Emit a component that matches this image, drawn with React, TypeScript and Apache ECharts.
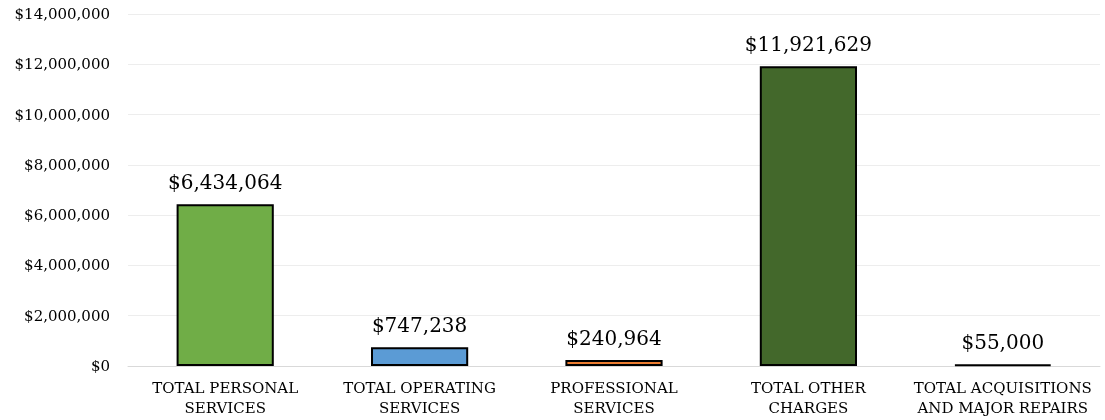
import React, { useEffect, useRef } from "react";
import * as echarts from "echarts";

const categories = [
  "TOTAL PERSONAL\nSERVICES",
  "TOTAL OPERATING\nSERVICES",
  "PROFESSIONAL\nSERVICES",
  "TOTAL OTHER\nCHARGES",
  "TOTAL ACQUISITIONS\nAND MAJOR REPAIRS",
];
const values = [6434064, 747238, 240964, 11921629, 55000];
const barColors = ["#70AD47", "#5B9BD5", "#ED7D31", "#43682B", "#3A3A3A"];
const yTicks = { min: 0, max: 14000000, interval: 2000000 };

const fmt = (v: number) => "$" + Math.round(v).toLocaleString("en-US");
const FONT = "'DejaVu Serif', 'Liberation Serif', serif";

export default function App() {
  const ref = useRef<HTMLDivElement>(null);
  useEffect(() => {
    if (!ref.current) return;
    const chart = echarts.init(ref.current, undefined, { renderer: "svg" });
    chart.setOption({
      animation: false,
      grid: { left: 128, right: 5, top: 14, bottom: 54 },
      xAxis: {
        type: "category",
        data: categories,
        axisTick: { show: false },
        axisLine: { lineStyle: { color: "#D9D9D9", width: 1 } },
        axisLabel: {
          color: "#000",
          fontFamily: FONT,
          fontSize: 15,
          lineHeight: 20,
          margin: 12,
          interval: 0,
        },
      },
      yAxis: {
        type: "value",
        min: yTicks.min,
        max: yTicks.max,
        interval: yTicks.interval,
        axisLabel: {
          color: "#000",
          fontFamily: FONT,
          fontSize: 15,
          margin: 18,
          formatter: (v: number) => fmt(v),
        },
        splitLine: { lineStyle: { color: "#EDEDED", width: 1 } },
        axisLine: { show: false },
        axisTick: { show: false },
      },
      series: [
        {
          type: "bar",
          barWidth: "50%",
          data: values.map((v, i) => ({
            value: v,
            itemStyle: { color: barColors[i] },
          })),
          itemStyle: { borderColor: "#000", borderWidth: 2 },
          label: {
            show: true,
            position: "top",
            distance: 12,
            color: "#000",
            fontFamily: FONT,
            fontSize: 20,
            formatter: (p: any) => fmt(p.value),
          },
        },
      ],
    });
    return () => chart.dispose();
  }, []);
  return (
    <div
      ref={ref}
      style={{ position: "fixed", left: 0, top: 0, width: 1105, height: 420 }}
    />
  );
}
